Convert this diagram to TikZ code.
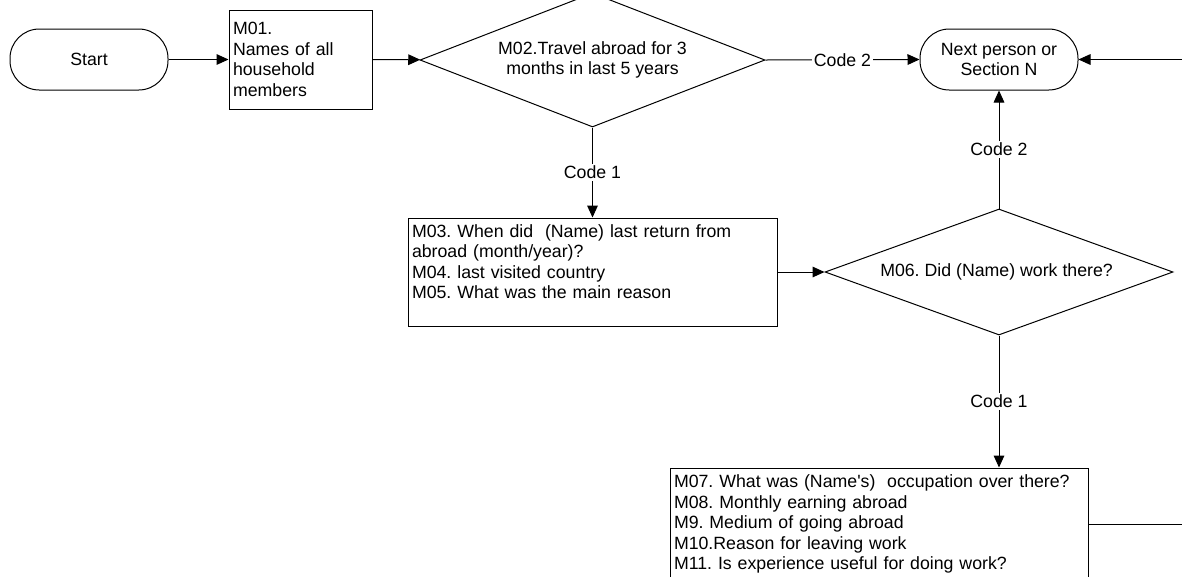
\documentclass[tikz,border=0pt]{standalone}
\usepackage{fontspec}
\setmainfont{Liberation Sans}
\usetikzlibrary{arrows.meta,positioning,shapes.geometric}
\frenchspacing

\begin{document}
\begin{tikzpicture}[x=0.75pt,y=-0.75pt,line width=0.75pt,
    every node/.style={font=\fontsize{13.3}{15.4}\selectfont},
    term/.style={draw,rounded corners=22pt,minimum width=118.5pt,minimum height=45.75pt,align=center,inner sep=2pt},
    qbox/.style={draw,align=left,inner xsep=3pt,inner ysep=2pt,text width=#1},
    decide/.style={draw,diamond,aspect=2.7,align=center,inner sep=0pt},
    arr/.style={-{Triangle[length=9pt,width=8pt]}},
    code/.style={fill=white,inner sep=1.5pt}]
      \useasboundingbox (0,0) rectangle (1182,576);
      \clip (0,0) rectangle (1182,576);

      \node[term] (start) at (89,59.5) {Start};
      \node[qbox=101.25pt,minimum height=74.25pt] (m01) at (300.5,59.5) {
        M01.\\
        Names of all\\
        household\\
        members
      };
      \node[decide,minimum width=258.75pt,minimum height=100.5pt] (m02) at (592.5,60) {
        M02.Travel abroad for 3\\
        months in last 5 years
      };
      \node[term] (next) at (999,59.5) {Next person or\\Section N};
      \coordinate (rightN) at (1190,59.5);

      \node[qbox=270.75pt,minimum height=81pt] (m03) at (592.5,272) {
        M03. When did\ \ (Name) last return from\\
        abroad (month/year)?\\
        M04. last visited country\\
        M05. What was the main reason\\
        \mbox{}
      };
      \node[decide,minimum width=261pt,minimum height=94.5pt] (m06) at (999,272) {
        M06. Did (Name) work there?
      };

      \node[qbox=307.5pt,minimum height=84pt] (m07) at (879,524) {
        M07. What was (Name\textquotesingle s)\ \ occupation over there?\\
        M08. Monthly earning abroad\\
        M9. Medium of going abroad\\
        M10.Reason for leaving work\\
        M11. Is experience useful for doing work?
      };
      \coordinate (rightM) at (1190,524);

      \draw[arr] (start) -- (m01);
      \draw[arr] (m01) -- (m02);
      \draw[arr] (m02.east) -- node[code]{Code 2} (next.west);
      \draw[arr] (rightN) -- (next.east);
      \draw[arr] (m02.south) -- node[code]{Code 1} (m03.north);
      \draw[arr] (m03.east) -- (m06.west);
      \draw[arr] (m06.north) -- node[code]{Code 2} (next.south);
      \draw[arr] (m06.south) -- node[code]{Code 1} (m06.south |- m07.north);
      \draw (m07.east) -- (rightM);
    \end{tikzpicture}
\end{document}
